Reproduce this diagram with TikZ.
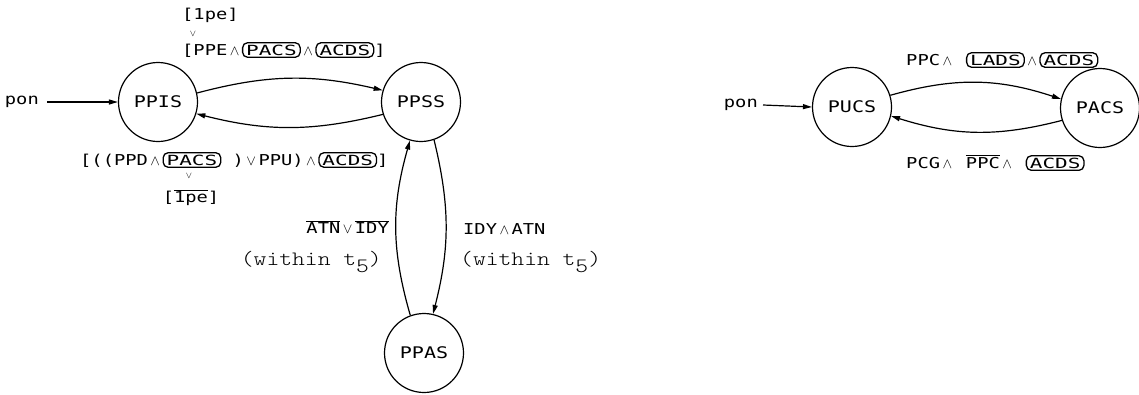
\documentclass[tikz,border=0pt]{standalone}
\usepackage{fontspec}
\usepackage{graphicx}
\usetikzlibrary{arrows.meta}
\newfontfamily\plotfont[FakeStretch=1.25]{DejaVu Sans Mono}
\newfontfamily\capfont[FakeStretch=1.5]{DejaVu Sans Mono}

% logical connectives and negation bar
\newcommand\andsym{\,$\wedge$\,}
\newcommand\orsym{\,$\vee$\,}
\newcommand\negate[1]{$\overline{\mbox{#1}}$}
% signal name framed in a rounded capsule
\newcommand\capsule[1]{\tikz[baseline=(capnode.base)]\node[capsulebox](capnode){#1};}
% timing condition in thin typewriter
\newcommand\within{\scalebox{1.22}[1.02]{\ttfamily\fontseries{l}\fontsize{20}{20}\selectfont (within t\raisebox{-0.3em}{5})}}

\tikzset{
  state/.style={circle, draw, line width=1.2pt, minimum size=79pt, inner sep=0pt,
    font=\plotfont\fontsize{16}{16}\selectfont},
  capsulebox/.style={draw, line width=1.3pt, rounded corners=5pt,
    inner xsep=3.5pt, inner ysep=2pt, font=\capfont\fontsize{14}{14}\selectfont},
  lbl/.style={inner sep=0pt, font=\plotfont\fontsize{15}{15}\selectfont},
  orsign/.style={inner sep=0pt, font=\small},
  edge/.style={line width=1.2pt, -{Triangle[length=9pt,width=5pt]}},
}

\begin{document}
\begin{tikzpicture}[x=1pt,y=1pt]
\useasboundingbox (0,0) rectangle (1139,-394);

% ---- pedal state machine ----
\node[state] (ppis) at (158,-102) {PPIS};
\node[state] (ppss) at (421,-102) {PPSS};
\node[state] (ppas) at (424,-353) {PPAS};

\node[lbl, anchor=east] (pon1) at (39,-102) {pon};
\coordinate (pon1end) at (47,-102);
\draw[edge] (pon1end) -- (ppis.west);

\draw[edge] (ppis.13) to[bend left=14] (ppss.163);
\draw[edge] (ppss.198) to[bend left=14] (ppis.-17);
\draw[edge] (ppas.110) to[bend left=16] (ppss.254);
\draw[edge] (ppss.289) to[bend left=14] (ppas.77);

\node[lbl, anchor=west] (enbl) at (182,-15) {[1pe]};
\node[orsign] (ortop) at (193,-34) {$\vee$};
\node[lbl, anchor=west] (pressup) at (182,-50)
  {[PPE\andsym\capsule{PACS}\andsym\capsule{ACDS}]};

\node[lbl, anchor=west] (pressdn) at (80,-160)
  {[((PPD\andsym\capsule{PACS} )\orsym PPU)\andsym\capsule{ACDS}]};
\node[orsign] (orbot) at (189,-176) {$\vee$};
\node[lbl] (noenbl) at (191,-198) {[\negate{1pe}]};

\node[lbl, anchor=east] (relcond) at (389,-227) {\negate{ATN}\orsym\negate{IDY}};
\node[inner sep=0pt, anchor=east] (reltime) at (382,-262) {\within};
\node[lbl, anchor=west] (actcond) at (463,-229) {IDY\andsym ATN};
\node[inner sep=0pt, anchor=west] (acttime) at (460,-262) {\within};

% ---- control state machine ----
\node[state] (pucs) at (852,-107) {PUCS};
\node[state] (pacs) at (1100,-108) {PACS};

\node[lbl, anchor=east] (pon2) at (758,-105) {pon};
\coordinate (pon2end) at (763,-105);
\draw[edge] (pon2end) -- (pucs.west);

\draw[edge] (pucs.17) to[bend left=17] (pacs.167);
\draw[edge] (pacs.198) to[bend left=16] (pucs.-13);

\node[lbl, anchor=west] (ctlup) at (906,-60)
  {PPC\andsym\ \capsule{LADS}\andsym\capsule{ACDS}};
\node[lbl, anchor=west] (ctldn) at (906,-163)
  {PCG\andsym\ \negate{PPC}\andsym\ \capsule{ACDS}};
\end{tikzpicture}
\end{document}
